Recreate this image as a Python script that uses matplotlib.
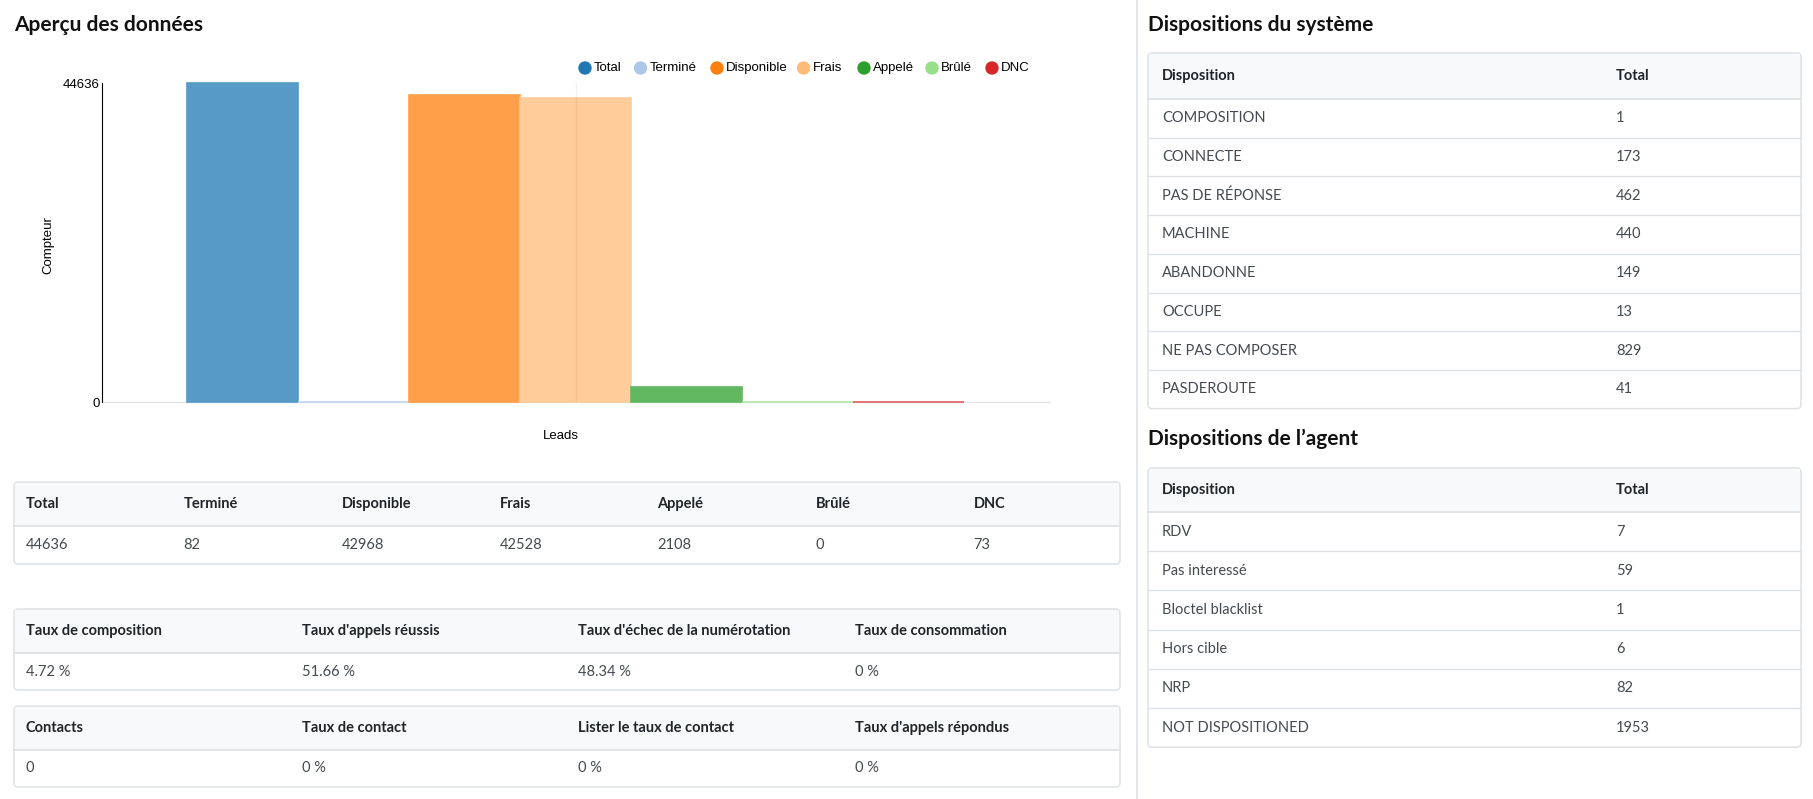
import matplotlib.pyplot as plt
from matplotlib.colors import to_rgb
from matplotlib.patches import FancyBboxPatch, Rectangle, Circle

# Données du graphique
categories = ["Total", "Terminé", "Disponible", "Frais", "Appelé", "Brûlé", "DNC"]
lead_counts = [44636, 82, 42968, 42528, 2108, 0, 73]
bar_colors = ["#1f77b4", "#aec7e8", "#ff7f0e", "#ffbb78", "#2ca02c", "#98df8a", "#d62728"]

# Tableaux de gauche
rate_headers = ["Taux de composition", "Taux d'appels réussis",
                "Taux d'échec de la numérotation", "Taux de consommation"]
rate_values = ["4.72 %", "51.66 %", "48.34 %", "0 %"]
contact_headers = ["Contacts", "Taux de contact", "Lister le taux de contact",
                   "Taux d'appels répondus"]
contact_values = ["0", "0 %", "0 %", "0 %"]

# Tableaux de droite
system_dispositions = ["COMPOSITION", "CONNECTE", "PAS DE RÉPONSE", "MACHINE",
                       "ABANDONNE", "OCCUPE", "NE PAS COMPOSER", "PASDEROUTE"]
system_totals = [1, 173, 462, 440, 149, 13, 829, 41]
agent_dispositions = ["RDV", "Pas interessé", "Bloctel blacklist", "Hors cible",
                      "NRP", "NOT DISPOSITIONED"]
agent_totals = [7, 59, 1, 6, 82, 1953]

W, H = 1813, 799
BORDER = "#dee2e6"
HEAD_BG = "#f8f9fa"
HEAD_TXT = "#212529"
BODY_TXT = "#444a50"
PAGE_FONT = ["Lato", "DejaVu Sans"]
CHART_FONT = ["Liberation Sans", "DejaVu Sans"]

fig = plt.figure(figsize=(W / 100, H / 100), dpi=100)
fig.patch.set_facecolor("white")

page = fig.add_axes([0, 0, 1, 1])
page.set_xlim(0, W)
page.set_ylim(H, 0)
page.axis("off")


def draw_table(x0, x1, y0, head_h, row_h, headers, rows, col_x):
    y1 = y0 + head_h + row_h * len(rows)
    page.add_patch(FancyBboxPatch((x0, y0), x1 - x0, y1 - y0,
                                  boxstyle="round,pad=0,rounding_size=4",
                                  facecolor="white", edgecolor=BORDER, lw=1.1, zorder=1))
    page.add_patch(Rectangle((x0 + 1, y0 + 1), x1 - x0 - 2, head_h - 1,
                             facecolor=HEAD_BG, edgecolor="none", zorder=2))
    page.plot([x0, x1], [y0 + head_h, y0 + head_h], color=BORDER, lw=1.3, zorder=3)
    for h, cx in zip(headers, col_x):
        page.text(cx, y0 + head_h / 2, h, fontsize=10.5, fontweight="bold",
                  color=HEAD_TXT, va="center", ha="left", family=PAGE_FONT, zorder=4)
    for r, row in enumerate(rows):
        ry = y0 + head_h + r * row_h
        if r > 0:
            page.plot([x0, x1], [ry, ry], color=BORDER, lw=1.0, zorder=3)
        for v, cx in zip(row, col_x):
            page.text(cx, ry + row_h / 2, str(v), fontsize=10.5, color=BODY_TXT,
                      va="center", ha="left", family=PAGE_FONT, zorder=4)


# Titres
page.text(14, 25, "Aperçu des données", fontsize=15, fontweight="bold",
          color="#111111", va="center", family=PAGE_FONT)
page.text(1148, 25, "Dispositions du système", fontsize=15, fontweight="bold",
          color="#111111", va="center", family=PAGE_FONT)
page.text(1148, 439, "Dispositions de l\u2019agent", fontsize=15, fontweight="bold",
          color="#111111", va="center", family=PAGE_FONT)

# Séparateur vertical
page.plot([1136.5, 1136.5], [0, H], color=BORDER, lw=1.2)

# Tableaux de gauche
lx0, lx1 = 14, 1120
step7 = (lx1 - lx0) / 7
draw_table(lx0, lx1, 482, 44, 38, categories, [lead_counts],
           [lx0 + 11.5 + i * step7 for i in range(7)])
step4 = (lx1 - lx0) / 4
draw_table(lx0, lx1, 609, 44, 37, rate_headers, [rate_values],
           [lx0 + 11.5 + i * step4 for i in range(4)])
draw_table(lx0, lx1, 706, 44, 37, contact_headers, [contact_values],
           [lx0 + 11.5 + i * step4 for i in range(4)])

# Tableaux de droite
rx0, rx1 = 1148, 1801
draw_table(rx0, rx1, 53, 46, 38.7, ["Disposition", "Total"],
           list(zip(system_dispositions, system_totals)), [1162, 1616])
draw_table(rx0, rx1, 468, 44, 39.2, ["Disposition", "Total"],
           list(zip(agent_dispositions, agent_totals)), [1162, 1616])

# Graphique à barres (opacité 0.75 sur fond blanc)
faded = [tuple(0.75 * c + 0.25 for c in to_rgb(col)) for col in bar_colors]
ax_l, ax_r, ax_t, ax_b = 101.7, 1050, 83.2, 402.4
ax = fig.add_axes([ax_l / W, 1 - ax_b / H, (ax_r - ax_l) / W, (ax_b - ax_t) / H])
x = list(range(len(categories)))
bars = ax.bar(x, lead_counts, width=1.0, color=faded, edgecolor=faded,
              linewidth=1.2, zorder=4)
for b in bars:
    b.set_clip_on(False)
ax.axvline(3, color="#000000", alpha=0.05, lw=1, zorder=5)
ax.set_xlim(-1.27, 7.27)
ax.set_ylim(0, max(lead_counts))
ax.set_yticks([0, max(lead_counts)])
ax.set_yticklabels(["0", str(max(lead_counts))], family=CHART_FONT, fontsize=9.5)
ax.set_xticks([])
ax.tick_params(axis="y", length=0, pad=1.5)
for s in ["top", "right"]:
    ax.spines[s].set_visible(False)
ax.spines["left"].set_color("#000000")
ax.spines["left"].set_linewidth(0.8)
ax.spines["bottom"].set_color("#e5e5e5")
ax.spines["bottom"].set_linewidth(1.0)
ax.spines["bottom"].set_zorder(1)
ax.patch.set_alpha(0)

page.text(48.6, 245, "Compteur", rotation=90, fontsize=9.5, ha="center", va="center",
          family=CHART_FONT, color="#000000")
page.text(561, 436, "Leads", fontsize=9.5, ha="center", va="center",
          family=CHART_FONT, color="#000000")

# Légende
legend_x = [585, 640.5, 717, 803.5, 864, 932, 992]
for cx, lab, col in zip(legend_x, categories, bar_colors):
    page.add_patch(Circle((cx, 68), 6, facecolor=col, edgecolor=col, zorder=5))
    page.text(cx + 9, 68, lab, fontsize=9.5, ha="left", va="center",
              family=CHART_FONT, color="#000000", zorder=5)

fig.savefig("out.png", dpi=100, facecolor="white")
